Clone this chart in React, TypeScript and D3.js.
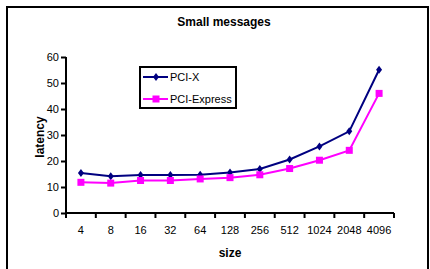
import React, { useEffect, useRef } from 'react';
import * as d3 from 'd3';

const sizes = ['4', '8', '16', '32', '64', '128', '256', '512', '1024', '2048', '4096'];
const pciX = [15.4, 14.1, 14.6, 14.6, 14.7, 15.6, 16.9, 20.6, 25.6, 31.4, 55.1];
const pciExpress = [11.8, 11.5, 12.5, 12.5, 13.1, 13.6, 14.7, 17.1, 20.3, 24.1, 46];
const yTicks = [0, 10, 20, 30, 40, 50, 60];

const series = [
  { name: 'PCI-X', values: pciX, color: '#000080', marker: 'diamond' },
  { name: 'PCI-Express', values: pciExpress, color: '#FF00FF', marker: 'square' },
];

const App = () => {
  const ref = useRef<SVGSVGElement | null>(null);

  useEffect(() => {
    if (!ref.current) return;
    const svg = d3.select(ref.current);
    svg.selectAll('*').remove();

    const font = 'Liberation Sans, Arial, sans-serif';
    const margin = { left: 66, right: 36, top: 57, bottom: 56 };
    const W = 430;
    const H = 269;

    // outer frame
    svg.append('rect').attr('x', 7).attr('y', 7).attr('width', 421).attr('height', 290)
      .attr('fill', '#fff').attr('stroke', '#000').attr('stroke-width', 2);

    const x = d3.scaleBand().domain(sizes).range([margin.left, W - margin.right]);
    const y = d3.scaleLinear().domain([0, 60]).range([H - margin.bottom, margin.top]);

    // title
    svg.append('text').attr('x', 224).attr('y', 26).attr('text-anchor', 'middle')
      .attr('font-family', font).attr('font-size', 12).attr('font-weight', 'bold')
      .text('Small messages');

    // y axis
    const yAxis = svg.append('g').attr('transform', `translate(${margin.left},0)`)
      .call(d3.axisLeft(y).tickValues(yTicks).tickSize(5).tickPadding(2));
    yAxis.select('.domain').attr('stroke', '#000').attr('stroke-width', 2).attr('d', `M0,${y(0)}V${y(60)}`);
    yAxis.selectAll('.tick line').attr('stroke-width', 2);
    yAxis.selectAll('.tick text').attr('font-family', font).attr('font-size', 11).attr('fill', '#000');

    // x axis
    const xAxis = svg.append('g').attr('transform', `translate(0,${y(0)})`)
      .call(d3.axisBottom(x).tickSize(0).tickPadding(13));
    xAxis.select('.domain').attr('stroke', '#000').attr('stroke-width', 2)
      .attr('d', `M${margin.left},0H${W - margin.right}`);
    xAxis.selectAll('.tick text').attr('font-family', font).attr('font-size', 11).attr('fill', '#000');
    const edges = sizes.map((s) => x(s)!).concat([W - margin.right]);
    xAxis.selectAll('line.edge').data(edges).enter().append('line')
      .attr('x1', (d) => d).attr('x2', (d) => d).attr('y1', 0).attr('y2', 5)
      .attr('stroke', '#000').attr('stroke-width', 2);

    // axis titles
    svg.append('text').attr('x', 230).attr('y', 257).attr('text-anchor', 'middle')
      .attr('font-family', font).attr('font-size', 12).attr('font-weight', 'bold').text('size');
    svg.append('text').attr('transform', `translate(44,137) rotate(-90)`).attr('text-anchor', 'middle')
      .attr('font-family', font).attr('font-size', 12).attr('font-weight', 'bold').text('latency');

    const cx = (i: number) => x(sizes[i])! + x.bandwidth() / 2;
    const line = d3.line<number>().x((_, i) => cx(i)).y((d) => y(d));

    const drawMarker = (g: any, mx: number, my: number, s: typeof series[0]) => {
      if (s.marker === 'diamond') {
        g.append('path').attr('d', `M${mx},${my - 4}L${mx + 3},${my}L${mx},${my + 4}L${mx - 3},${my}Z`)
          .attr('fill', s.color);
      } else {
        g.append('rect').attr('x', mx - 3.5).attr('y', my - 3.5).attr('width', 7).attr('height', 7)
          .attr('fill', s.color);
      }
    };

    series.forEach((s) => {
      svg.append('path').datum(s.values).attr('fill', 'none').attr('stroke', s.color)
        .attr('stroke-width', 2).attr('d', line);
      const g = svg.append('g');
      s.values.forEach((v, i) => drawMarker(g, cx(i), y(v), s));
    });

    // legend
    const lg = svg.append('g');
    lg.append('rect').attr('x', 140).attr('y', 67).attr('width', 96).attr('height', 41)
      .attr('fill', '#fff').attr('stroke', '#000').attr('stroke-width', 2);
    series.forEach((s, i) => {
      const ly = 77 + i * 22;
      lg.append('line').attr('x1', 143).attr('x2', 168).attr('y1', ly).attr('y2', ly)
        .attr('stroke', s.color).attr('stroke-width', 2);
      drawMarker(lg, 156, ly, s);
      lg.append('text').attr('x', 170).attr('y', ly + 4).attr('font-family', font).attr('font-size', 11)
        .text(s.name);
    });
  }, []);

  return (
    <svg ref={ref} width={430} height={269}
      style={{ position: 'absolute', left: 0, top: 0, background: '#fff' }} />
  );
};

export default App;
